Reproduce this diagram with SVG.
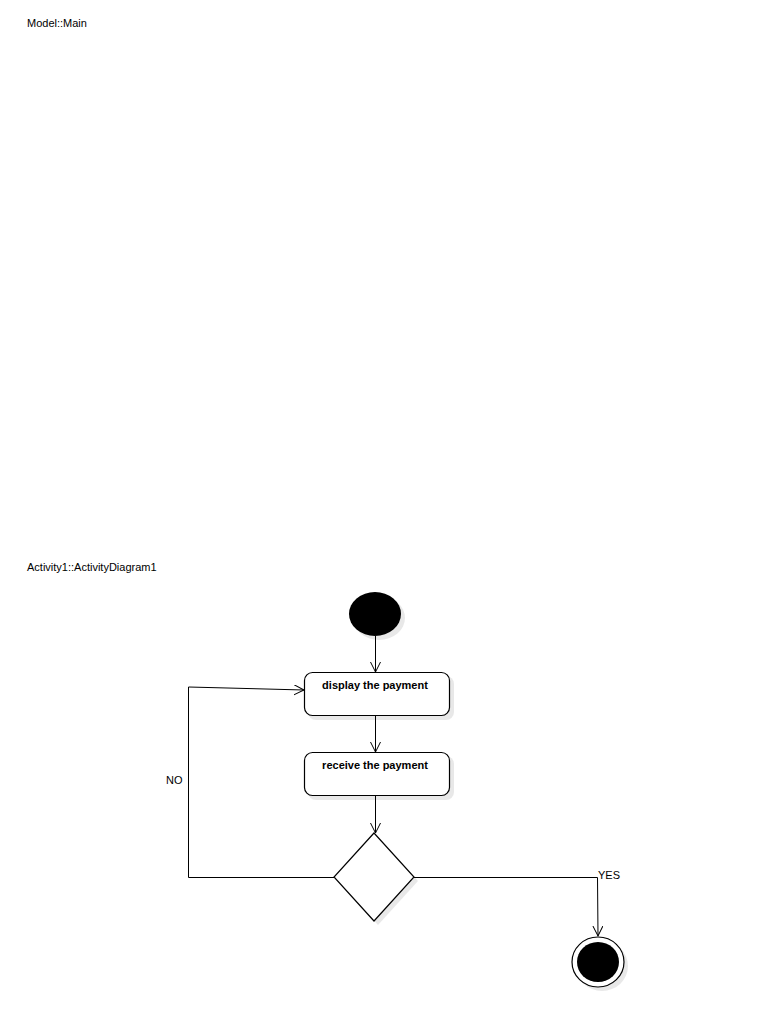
<svg xmlns="http://www.w3.org/2000/svg" width="768" height="1024" viewBox="0 0 768 1024">
<defs>
<style>
.lbl{font-family:"Liberation Sans",Arial,sans-serif;font-size:11px;fill:#000}
.act{font-family:"Liberation Sans",Arial,sans-serif;font-size:11px;font-weight:bold;fill:#000}
.node{fill:#fff;stroke:#000;stroke-width:1.2}
.shadow{fill:#d8d8d8;opacity:0.6}
.edge{fill:none;stroke:#000;stroke-width:1}
</style>
<marker id="arr" markerWidth="12" markerHeight="12" refX="10" refY="5" orient="auto" markerUnits="userSpaceOnUse">
<path d="M0,0 L10,5 L0,10" fill="none" stroke="#000" stroke-width="1"/>
</marker>
</defs>
<rect width="768" height="1024" fill="#fff"/>
<text class="lbl" x="27" y="27">Model::Main</text>
<text class="lbl" x="27" y="571">Activity1::ActivityDiagram1</text>

<g id="start">
<ellipse class="shadow" cx="379" cy="618" rx="26" ry="22"/>
<ellipse cx="375" cy="614" rx="26" ry="22" fill="#000"/>
</g>
<g id="display">
<rect class="shadow" x="308" y="676" width="146" height="44" rx="8"/>
<rect class="node" x="304.5" y="672.5" width="145" height="43" rx="8"/>
<text class="act" x="375" y="689" text-anchor="middle">display the payment</text>
</g>
<g id="receive">
<rect class="shadow" x="308" y="756" width="146" height="44" rx="8"/>
<rect class="node" x="304.5" y="752.5" width="145" height="43" rx="8"/>
<text class="act" x="375" y="769" text-anchor="middle">receive the payment</text>
</g>
<g id="decision">
<polygon class="shadow" points="378,837 418,881 378,925 338,881"/>
<polygon class="node" points="374,833 414,877 374,921 334,877"/>
</g>
<g id="final">
<ellipse class="shadow" cx="602" cy="966" rx="26" ry="25"/>
<ellipse class="node" cx="598" cy="962" rx="26" ry="25"/>
<ellipse cx="598" cy="962" rx="21" ry="20" fill="#000"/>
</g>

<g id="connectors">
<line class="edge" x1="375.5" y1="636" x2="375.5" y2="672" marker-end="url(#arr)"/>
<line class="edge" x1="375.5" y1="716" x2="375.5" y2="752" marker-end="url(#arr)"/>
<line class="edge" x1="375.5" y1="796" x2="375.5" y2="833" marker-end="url(#arr)"/>
<polyline class="edge" points="334,877.5 188.5,877.5 188.5,687 304,690" marker-end="url(#arr)"/>
<polyline class="edge" points="414,877.5 597.5,877.5 598,936" marker-end="url(#arr)"/>
<text class="lbl" x="166" y="784">NO</text>
<text class="lbl" x="598" y="879">YES</text>
</g>
</svg>
